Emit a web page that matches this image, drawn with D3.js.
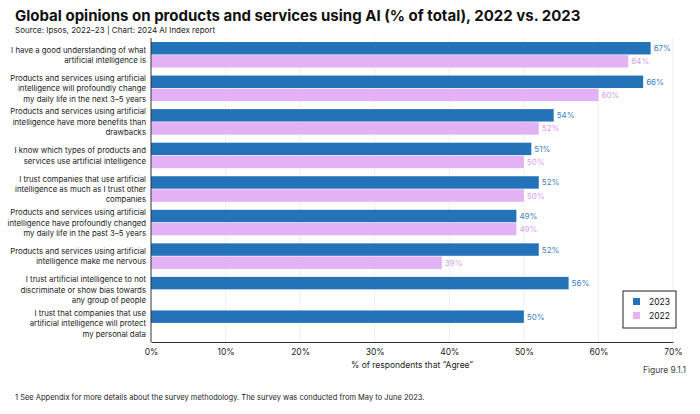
<!DOCTYPE html>
<html><head><meta charset="utf-8">
<script src="https://cdn.jsdelivr.net/npm/d3@7"></script>
<style>body{margin:0;background:#fff;font-family:Inter,"Noto Sans",sans-serif}</style>
</head><body><svg id="c" width="700" height="414"></svg>
<script>
const categories = [
  ["I have a good understanding of what", "artificial intelligence is"],
  ["Products and services using artificial", "intelligence will profoundly change", "my daily life in the next 3–5 years"],
  ["Products and services using artificial", "intelligence have more benefits than", "drawbacks"],
  ["I know which types of products and", "services use artificial intelligence"],
  ["I trust companies that use artificial", "intelligence as much as I trust other", "companies"],
  ["Products and services using artificial", "intelligence have profoundly changed", "my daily life in the past 3–5 years"],
  ["Products and services using artificial", "intelligence make me nervous"],
  ["I trust artificial intelligence to not", "discriminate or show bias towards", "any group of people"],
  ["I trust that companies that use", "artificial intelligence will protect", "my personal data"]
];
const values2023 = [67, 66, 54, 51, 52, 49, 52, 56, 50];
const values2022 = [64, 60, 52, 50, 50, 49, 39, null, null];
const xTicks = [0, 10, 20, 30, 40, 50, 60, 70];
const c23 = "#2473b8", c22 = "#e3b2f5";

const svg = d3.select("#c");
const x = d3.scaleLinear().domain([0, 70]).range([151, 673]);
const y = d3.scaleBand().domain(d3.range(categories.length)).range([38, 340]).paddingInner(0.2).paddingOuter(0.1);
const sub = d3.scaleBand().domain(["2023", "2022"]).range([0, y.bandwidth()]).padding(0.05);

svg.append("text").attr("x", 15).attr("y", 21).attr("font-size", 15).attr("font-weight", 700)
  .attr("fill", "#111").text("Global opinions on products and services using AI (% of total), 2022 vs. 2023");
svg.append("text").attr("x", 15).attr("y", 33).attr("font-size", 8).attr("fill", "#222")
  .text("Source: Ipsos, 2022–23 | Chart: 2024 AI Index report");

svg.append("g").selectAll("line").data(xTicks.slice(1)).join("line")
  .attr("x1", d => x(d)).attr("x2", d => x(d)).attr("y1", 38).attr("y2", 342)
  .attr("stroke", "#eee");

const g = svg.append("g").selectAll("g").data(categories).join("g")
  .attr("transform", (d, i) => `translate(0,${y(i)})`);
g.append("rect").attr("x", x(0)).attr("y", sub("2023")).attr("height", sub.bandwidth())
  .attr("width", (d, i) => x(values2023[i]) - x(0)).attr("fill", c23);
g.filter((d, i) => values2022[i] != null).append("rect").attr("x", x(0)).attr("y", sub("2022")).attr("height", sub.bandwidth())
  .attr("width", (d, i) => x(values2022[i]) - x(0)).attr("fill", c22);
g.append("text").attr("x", (d, i) => x(values2023[i]) + 3).attr("y", sub("2023") + sub.bandwidth() / 2 + 3)
  .attr("font-size", 8).attr("fill", "#3b82c4").text((d, i) => values2023[i] + "%");
g.filter((d, i) => values2022[i] != null).append("text").attr("x", (d, i) => x(values2022[i]) + 3)
  .attr("y", sub("2022") + sub.bandwidth() / 2 + 3)
  .attr("font-size", 8).attr("fill", "#d9a0ee").text((d, i) => values2022[i] + "%");
g.append("text").attr("text-anchor", "end").attr("font-size", 7.8).attr("fill", "#222")
  .attr("x", 146)
  .each(function (d) {
    const t = d3.select(this), n = d.length, mid = y.bandwidth() / 2;
    d.forEach((l, k) => t.append("tspan").attr("x", 146).attr("y", mid + (k - (n - 1) / 2) * 10.5 + 3).text(l));
  });

svg.append("line").attr("x1", 151).attr("x2", 151).attr("y1", 38).attr("y2", 342).attr("stroke", "#333");
const ax = svg.append("g").attr("transform", "translate(0,342)")
  .call(d3.axisBottom(x).tickValues(xTicks).tickFormat(d => d + "%").tickSize(0).tickPadding(7));
ax.select(".domain").attr("stroke", "#333");
ax.selectAll("text").attr("font-size", 8.5).attr("fill", "#222").attr("font-family", "Inter,sans-serif");

svg.append("text").attr("x", 412).attr("y", 368).attr("text-anchor", "middle").attr("font-size", 8.5)
  .attr("fill", "#222").text("% of respondents that “Agree”");
svg.append("text").attr("x", 686).attr("y", 373).attr("text-anchor", "end").attr("font-size", 8.5)
  .attr("fill", "#444").text("Figure 9.1.1");
svg.append("text").attr("x", 15).attr("y", 400).attr("font-size", 7.5).attr("fill", "#222")
  .text("1 See Appendix for more details about the survey methodology. The survey was conducted from May to June 2023.");

const lg = svg.append("g").attr("transform", "translate(623,291)");
lg.append("rect").attr("width", 53).attr("height", 37).attr("fill", "#fff").attr("stroke", "#222");
[["2023", c23], ["2022", c22]].forEach(([t, col], k) => {
  lg.append("rect").attr("x", 10).attr("y", 7 + k * 14).attr("width", 7).attr("height", 7).attr("fill", col);
  lg.append("text").attr("x", 47).attr("y", 14 + k * 14).attr("text-anchor", "end").attr("font-size", 8.5).attr("fill", "#111").text(t);
});
</script></body></html>
